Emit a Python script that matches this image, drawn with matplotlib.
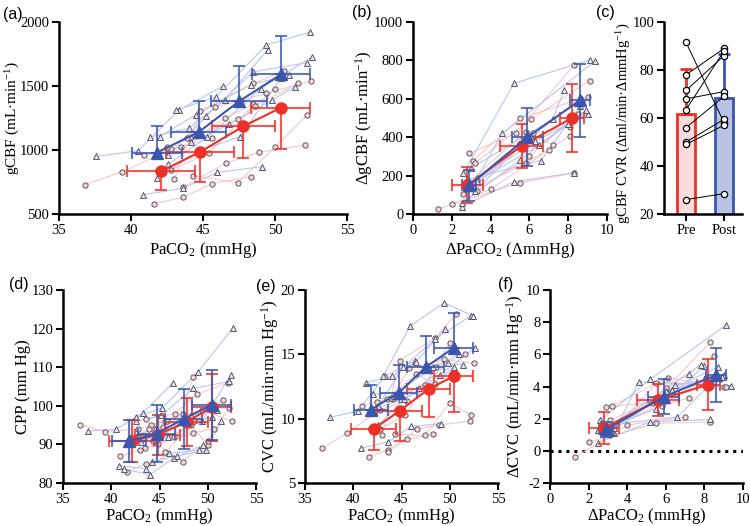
import numpy as np
import matplotlib.pyplot as plt

plt.rcParams['font.family'] = 'Liberation Serif'
plt.rcParams['mathtext.fontset'] = 'custom'
plt.rcParams['mathtext.rm'] = 'Liberation Serif'
plt.rcParams['mathtext.it'] = 'Liberation Serif:italic'
plt.rcParams['axes.unicode_minus'] = False

# ---- individual subjects (9 per condition), 4 PaCO2 stages ----
paco2_pre = [[36.8, 39.4, 42.8, 45.6],
             [40.9, 43.5, 46.5, 48.5],
             [41.6, 43.6, 45.6, 48.3],
             [42.5, 44.1, 47.4, 50.0],
             [42.8, 45.4, 48.6, 51.6],
             [43.0, 44.8, 48.5, 50.6],
             [43.6, 46.6, 48.9, 52.1],
             [43.9, 45.8, 49.4, 52.5],
             [44.3, 47.4, 50.0, 52.2]]
paco2_post = [[37.6, 40.5, 43.3, 46.4],
              [40.8, 43.6, 46.0, 49.1],
              [41.3, 44.0, 46.5, 49.5],
              [41.8, 44.9, 47.6, 50.4],
              [42.0, 44.5, 48.3, 51.0],
              [42.6, 45.2, 48.5, 52.2],
              [42.6, 45.3, 49.0, 52.6],
              [43.1, 45.9, 49.4, 52.4],
              [44.2, 46.8, 49.8, 51.4]]

gcbf_pre = [[730, 830, 1006, 1090],
            [960, 1020, 1247, 1360],
            [580, 630, 736, 791],
            [1020, 1092, 1240, 1474],
            [845, 975, 1343, 1521],
            [770, 1305, 1520, 1617],
            [710, 897, 983, 1039],
            [1090, 1333, 1442, 1540],
            [800, 745, 1020, 1270]]
gcbf_post = [[950, 995, 1310, 1500],
             [650, 700, 825, 870],
             [1100, 1170, 1390, 1785],
             [780, 1000, 1105, 1560],
             [1105, 1275, 1510, 1586],
             [960, 1265, 1611, 1682],
             [890, 1100, 1480, 1729],
             [1310, 1415, 1820, 1920],
             [1060, 1200, 1390, 1495]]

cpp_pre = [[95.0, 93.3, 94.0, 96.0],
           [87.0, 89.0, 92.0, 107.5],
           [82.8, 85.0, 88.0, 95.0],
           [90.5, 95.0, 98.0, 89.8],
           [92.0, 94.5, 96.0, 101.5],
           [88.5, 90.0, 93.0, 94.0],
           [96.5, 98.0, 103.0, 106.0],
           [94.0, 96.0, 99.0, 96.0],
           [90.8, 85.5, 91.0, 99.5]]
cpp_post = [[93.5, 93.9, 98.2, 106.0],
            [84.5, 83.7, 87.7, 88.5],
            [83.6, 82.2, 86.5, 89.8],
            [90.0, 92.0, 95.5, 97.0],
            [92.0, 94.0, 97.5, 99.0],
            [96.0, 97.5, 104.5, 106.3],
            [97.0, 99.5, 108.8, 120.1],
            [90.5, 92.0, 96.0, 108.0],
            [85.5, 87.0, 88.5, 96.0]]

cvc_pre = [[7.7, 8.9, 10.7, 11.4],
           [11.0, 11.5, 13.5, 12.7],
           [7.0, 7.6, 8.4, 8.8],
           [11.3, 11.5, 12.6, 15.9],
           [9.2, 10.3, 14.0, 15.0],
           [8.7, 14.5, 16.3, 18.1],
           [7.4, 9.2, 9.5, 9.8],
           [11.6, 13.9, 14.6, 14.3],
           [8.8, 8.7, 11.2, 10.3]]
cvc_post = [[10.1, 10.6, 13.3, 14.5],
            [7.7, 8.2, 9.4, 9.6],
            [12.8, 13.3, 14.4, 17.0],
            [10.6, 11.5, 12.3, 14.0],
            [11.9, 12.0, 14.0, 15.0],
            [11.0, 14.0, 16.2, 18.0],
            [9.5, 11.5, 13.4, 15.5],
            [13.3, 17.2, 19.0, 18.0],
            [11.8, 12.4, 14.3, 14.2]]

# ---- change from baseline (3 stages) ----
dpaco2_pre = [[1.3, 4.0, 7.0],
              [2.0, 5.5, 8.3],
              [2.6, 5.8, 8.1],
              [2.9, 5.3, 8.3],
              [3.1, 5.5, 9.0],
              [3.2, 6.1, 9.1],
              [3.1, 6.2, 8.1],
              [2.7, 5.8, 7.2],
              [3.3, 6.0, 8.5]]
dpaco2_post = [[2.5, 5.2, 8.3],
               [2.5, 5.5, 8.0],
               [2.6, 5.2, 9.1],
               [3.3, 4.6, 9.4],
               [2.8, 6.6, 8.6],
               [3.0, 7.2, 7.8],
               [3.2, 6.0, 8.7],
               [2.9, 6.3, 9.0],
               [3.3, 6.5, 8.9]]
dgcbf_pre = [[24, 129, 333],
             [50, 163, 212],
             [104, 264, 406],
             [316, 420, 776],
             [278, 498, 611],
             [264, 495, 694],
             [134, 420, 455],
             [150, 429, 359],
             [120, 300, 520]]
dgcbf_post = [[38, 168, 215],
              [55, 280, 470],
              [212, 680, 802],
              [186, 420, 797],
              [180, 278, 560],
              [240, 493, 646],
              [120, 400, 600],
              [150, 380, 520],
              [170, 360, 540]]
dcvc_pre = [[-0.4, 1.6, 2.1],
            [0.55, 1.7, 1.8],
            [1.3, 2.9, 4.5],
            [2.75, 3.0, 6.75],
            [1.0, 4.2, 3.95],
            [2.8, 4.55, 3.95],
            [1.9, 3.6, 4.45],
            [1.2, 2.8, 3.3],
            [1.6, 3.9, 5.9]]
dcvc_post = [[0.5, 1.8, 1.95],
             [1.3, 2.6, 5.3],
             [1.9, 4.45, 7.8],
             [1.1, 4.3, 4.05],
             [1.6, 2.1, 4.5],
             [1.5, 4.8, 5.35],
             [1.2, 3.7, 5.2],
             [1.2, 3.8, 4.7],
             [1.4, 4.1, 4.6]]

# ---- group mean and SD ----
paco2_pre_mean = [42.1, 44.8, 47.8, 50.4]
paco2_pre_sd = [2.35, 2.35, 2.2, 2.05]
paco2_post_mean = [41.8, 44.7, 47.5, 50.4]
paco2_post_sd = [1.75, 1.9, 1.95, 2.0]
gcbf_pre_mean = [835, 985, 1185, 1330]
gcbf_pre_sd = [145, 235, 250, 320]
gcbf_post_mean = [980, 1140, 1380, 1590]
gcbf_post_sd = [210, 245, 280, 300]
cpp_pre_mean = [90.8, 92.5, 95.8, 99.6]
cpp_pre_sd = [5.4, 5.2, 6.2, 8.6]
cpp_post_mean = [90.8, 92.8, 96.6, 100.2]
cpp_post_sd = [5.4, 7.4, 7.8, 9.0]
cvc_pre_mean = [9.2, 10.6, 12.3, 13.3]
cvc_pre_sd = [1.6, 2.3, 2.2, 2.8]
cvc_post_mean = [10.7, 12.0, 14.0, 15.5]
cvc_post_sd = [1.9, 2.2, 2.4, 2.7]

dpaco2_pre_mean = [2.8, 5.6, 8.2]
dpaco2_pre_sd = [0.8, 1.1, 0.6]
dpaco2_post_mean = [2.9, 5.9, 8.6]
dpaco2_post_sd = [0.35, 0.8, 0.5]
dgcbf_pre_mean = [150, 355, 500]
dgcbf_pre_sd = [95, 115, 175]
dgcbf_post_mean = [150, 400, 592]
dgcbf_post_sd = [80, 150, 190]
dcvc_pre_mean = [1.42, 3.15, 4.12]
dcvc_pre_sd = [1.0, 1.0, 1.6]
dcvc_post_mean = [1.33, 3.36, 4.71]
dcvc_post_sd = [0.47, 1.1, 1.7]

# ---- CVR bar panel ----
cvr_groups = ['Pre', 'Post']
cvr_pre = [91.5, 78, 71.5, 68, 63.5, 56, 50, 49, 26]
cvr_post = [58, 89, 86, 71, 88, 69, 59.5, 57, 28.5]
cvr_mean = [61.5, 68.5]
cvr_sd = [19.0, 18.0]

RED = '#ee3128'
BLUE = '#3a57ad'
PRE_LINE = '#f7c8ca'
POST_LINE = '#b9c5ee'
PRE_DOT = '#f5d6d6'
POST_DOT = '#dfe5f6'
DOT_EDGE = '#4a4050'

fig = plt.figure(figsize=(7.5, 5.26), dpi=100)


def px_axes(x0, x1, y0, y1):
    return fig.add_axes([x0 / 750, 1 - y1 / 526, (x1 - x0) / 750, (y1 - y0) / 526])


def style(ax):
    for s in ['top', 'right']:
        ax.spines[s].set_visible(False)
    for s in ['left', 'bottom']:
        ax.spines[s].set_linewidth(1.8)
    ax.tick_params(direction='out', length=5, width=1.5, labelsize=10.5, pad=2)


def subjects_panel(ax, xpre, ypre, xpost, ypost, mpre, mpost, one_sided=False):
    for xs, ys in zip(xpre, ypre):
        ax.plot(xs, ys, color=PRE_LINE, lw=0.8, zorder=1)
    for xs, ys in zip(xpost, ypost):
        ax.plot(xs, ys, color=POST_LINE, lw=0.8, zorder=1)
    ax.plot(np.ravel(xpre), np.ravel(ypre), 'o', ms=3.8, mfc=PRE_DOT, mec=DOT_EDGE,
            mew=0.6, ls='none', zorder=2)
    ax.plot(np.ravel(xpost), np.ravel(ypost), '^', ms=3.8, mfc=POST_DOT, mec=DOT_EDGE,
            mew=0.6, ls='none', zorder=2)

    for (mx, sx, my, sy), col, mk, down in [(mpre, RED, 'o', True),
                                            (mpost, BLUE, '^', False)]:
        sy = np.array(sy)
        if one_sided:
            zero = np.zeros_like(sy)
            yerr = [sy, zero] if down else [zero, sy]
        else:
            yerr = sy
        ax.errorbar(mx, my, xerr=sx, yerr=yerr, fmt='none', ecolor=col, elinewidth=1.5,
                    capsize=4.5, capthick=1.5, alpha=0.8, zorder=3)
        ax.plot(mx, my, color=col, lw=1.5, marker=mk, ms=8, mec=col, zorder=4)
    style(ax)


# (a) gCBF vs PaCO2
ax_a = px_axes(59, 347, 22, 214)
subjects_panel(ax_a, paco2_pre, gcbf_pre, paco2_post, gcbf_post,
               (paco2_pre_mean, paco2_pre_sd, gcbf_pre_mean, gcbf_pre_sd),
               (paco2_post_mean, paco2_post_sd, gcbf_post_mean, gcbf_post_sd), one_sided=True)
ax_a.set_xlim(35, 55)
ax_a.set_ylim(500, 2000)
ax_a.set_xticks([35, 40, 45, 50, 55])
ax_a.set_yticks([500, 1000, 1500, 2000])
ax_a.set_xlabel('PaCO$_2$ (mmHg)', fontsize=12)
ax_a.set_ylabel('gCBF (mL·min$^{-1}$)', fontsize=11)

# (b) delta gCBF vs delta PaCO2
ax_b = px_axes(413, 607, 22, 214)
subjects_panel(ax_b, dpaco2_pre, dgcbf_pre, dpaco2_post, dgcbf_post,
               (dpaco2_pre_mean, dpaco2_pre_sd, dgcbf_pre_mean, dgcbf_pre_sd),
               (dpaco2_post_mean, dpaco2_post_sd, dgcbf_post_mean, dgcbf_post_sd))
ax_b.set_xlim(0, 10)
ax_b.set_ylim(0, 1000)
ax_b.set_xticks(range(0, 11, 2))
ax_b.set_yticks(range(0, 1001, 200))
ax_b.set_xlabel('ΔPaCO$_2$ (ΔmmHg)', fontsize=12)
ax_b.set_ylabel('ΔgCBF (mL·min$^{-1}$)', fontsize=12)

# (c) CVR bars
ax_c = px_axes(664, 742, 22, 214)
xpos = np.arange(len(cvr_groups))
ax_c.bar(xpos, cvr_mean, width=0.47, color=['#fbdcdc', '#b9c3e6'],
         edgecolor=[RED, BLUE], linewidth=2, zorder=1)
for i, col in enumerate([RED, BLUE]):
    ax_c.errorbar(xpos[i], cvr_mean[i], yerr=[[0], [cvr_sd[i]]], fmt='none', ecolor=col,
                  elinewidth=2, capsize=4, capthick=2, zorder=2)
for a, b in zip(cvr_pre, cvr_post):
    ax_c.plot(xpos, [a, b], color='black', lw=0.7, zorder=3)
ax_c.plot(np.full(len(cvr_pre), xpos[0]), cvr_pre, 'o', ms=4.5, mfc='white', mec='black',
          mew=0.9, ls='none', zorder=4)
ax_c.plot(np.full(len(cvr_post), xpos[1]), cvr_post, 'o', ms=4.5, mfc='white', mec='black',
          mew=0.9, ls='none', zorder=4)
ax_c.set_xlim(-0.58, 1.47)
ax_c.set_ylim(20, 100)
ax_c.set_yticks([20, 40, 60, 80, 100])
ax_c.set_xticks(xpos)
ax_c.set_xticklabels(cvr_groups, fontsize=11.5)
ax_c.set_ylabel('gCBF CVR (Δml/min·ΔmmHg$^{-1}$)', fontsize=10.5)
style(ax_c)

# (d) CPP
ax_d = px_axes(63, 256, 290, 483)
subjects_panel(ax_d, paco2_pre, cpp_pre, paco2_post, cpp_post,
               (paco2_pre_mean, paco2_pre_sd, cpp_pre_mean, cpp_pre_sd),
               (paco2_post_mean, paco2_post_sd, cpp_post_mean, cpp_post_sd))
ax_d.set_xlim(35, 55)
ax_d.set_ylim(80, 130)
ax_d.set_xticks([35, 40, 45, 50, 55])
ax_d.set_yticks(range(80, 131, 10))
ax_d.set_xlabel('PaCO$_2$ (mmHg)', fontsize=12)
ax_d.set_ylabel('CPP (mm Hg)', fontsize=12)

# (e) CVC
ax_e = px_axes(305, 498, 290, 483)
subjects_panel(ax_e, paco2_pre, cvc_pre, paco2_post, cvc_post,
               (paco2_pre_mean, paco2_pre_sd, cvc_pre_mean, cvc_pre_sd),
               (paco2_post_mean, paco2_post_sd, cvc_post_mean, cvc_post_sd), one_sided=True)
ax_e.set_xlim(35, 55)
ax_e.set_ylim(5, 20)
ax_e.set_xticks([35, 40, 45, 50, 55])
ax_e.set_yticks([5, 10, 15, 20])
ax_e.set_xlabel('PaCO$_2$ (mmHg)', fontsize=12)
ax_e.set_ylabel('CVC (mL/min·mm Hg$^{-1}$)', fontsize=12)

# (f) delta CVC
ax_f = px_axes(550, 743, 290, 483)
ax_f.axhline(0, color='black', lw=2.2, ls=(0, (1, 1.6)), zorder=0)
subjects_panel(ax_f, dpaco2_pre, dcvc_pre, dpaco2_post, dcvc_post,
               (dpaco2_pre_mean, dpaco2_pre_sd, dcvc_pre_mean, dcvc_pre_sd),
               (dpaco2_post_mean, dpaco2_post_sd, dcvc_post_mean, dcvc_post_sd))
ax_f.set_xlim(0, 10)
ax_f.set_ylim(-2, 10)
ax_f.set_xticks(range(0, 11, 2))
ax_f.set_yticks(range(-2, 11, 2))
ax_f.set_xlabel('ΔPaCO$_2$ (mmHg)', fontsize=12)
ax_f.set_ylabel('ΔCVC (mL/min·mm Hg$^{-1}$)', fontsize=12)

# label placement
for ax, yx in [(ax_a, -0.13), (ax_b, -0.196), (ax_d, -0.165),
               (ax_e, -0.125), (ax_f, -0.125)]:
    ax.yaxis.set_label_coords(yx, 0.5)
ax_c.yaxis.set_label_coords(-0.4, 0.47)
for ax in [ax_a, ax_b, ax_c]:
    ax.xaxis.set_label_coords(0.5, -0.135)
for ax in [ax_d, ax_e, ax_f]:
    ax.xaxis.set_label_coords(0.5, -0.12)

# panel letters
for lab, x, y in [('(a)', 13, 15), ('(b)', 362, 13), ('(c)', 605, 13),
                  ('(d)', 19, 285), ('(e)', 266, 286), ('(f)', 506, 285)]:
    fig.text(x / 750, 1 - y / 526, lab, family='Liberation Sans', fontsize=11.5,
             ha='center', va='center')

fig.savefig('out.png', dpi=100)
